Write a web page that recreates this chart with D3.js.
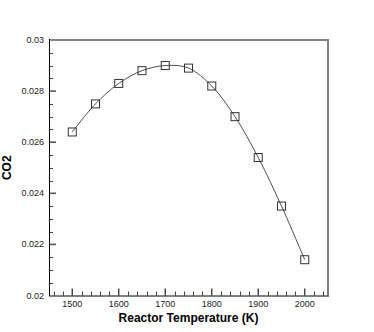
<!DOCTYPE html>
<html><head><meta charset="utf-8">
<script src="https://cdn.jsdelivr.net/npm/d3@7"></script>
<style>body{margin:0;background:#fff;} svg{display:block;}</style>
</head><body>
<svg id="c" width="374" height="332"></svg>
<script>
const temperatures = [1500,1550,1600,1650,1700,1750,1800,1850,1900,1950,2000];
const co2 = [0.0264,0.0275,0.0283,0.0288,0.0290,0.0289,0.0282,0.0270,0.0254,0.0235,0.0214];
const xTicks = [1500,1600,1700,1800,1900,2000];
const yTicks = [0.02,0.022,0.024,0.026,0.028,0.03];
const xLabel = "Reactor Temperature (K)";
const yLabel = "CO2";

const svg = d3.select("#c");
const L=49, R=328, T=40, B=295.5;
const x = d3.scaleLinear().domain([1450,2050]).range([L,R]);
const y = d3.scaleLinear().domain([0.02,0.03]).range([B,T]);

const xMinor = d3.range(1460,2050,20).filter(v=>!xTicks.includes(v));
const yMinor = d3.range(0.0205,0.03,0.0005).filter(v=>!yTicks.some(t=>Math.abs(t-v)<1e-9));

const g = svg.append("g");
g.selectAll(".xm").data(xMinor).enter().append("line")
  .attr("x1",d=>Math.round(x(d))+0.5).attr("x2",d=>Math.round(x(d))+0.5)
  .attr("y1",B).attr("y2",B-4).attr("stroke","#444").attr("stroke-width",1);
g.selectAll(".ym").data(yMinor).enter().append("line")
  .attr("y1",d=>Math.round(y(d))+0.5).attr("y2",d=>Math.round(y(d))+0.5)
  .attr("x1",L).attr("x2",L+4).attr("stroke","#444").attr("stroke-width",1);
g.selectAll(".xM").data(xTicks).enter().append("line")
  .attr("x1",d=>x(d)).attr("x2",d=>x(d))
  .attr("y1",B).attr("y2",B-7).attr("stroke","#333").attr("stroke-width",1.3);
g.selectAll(".yM").data(yTicks.filter(v=>v>0.02 && v<0.03)).enter().append("line")
  .attr("y1",d=>y(d)).attr("y2",d=>y(d))
  .attr("x1",L).attr("x2",L+7).attr("stroke","#555").attr("stroke-width",1.6);

svg.append("line").attr("x1",L).attr("x2",R).attr("y1",T).attr("y2",T).attr("stroke","#808080").attr("stroke-width",2);
svg.append("line").attr("x1",R).attr("x2",R).attr("y1",T-1).attr("y2",B).attr("stroke","#808080").attr("stroke-width",2);
svg.append("line").attr("x1",L+0.5).attr("x2",L+0.5).attr("y1",T-1).attr("y2",B+0.5).attr("stroke","#000").attr("stroke-width",1);
svg.append("line").attr("x1",L).attr("x2",R+1).attr("y1",B+0.5).attr("y2",B+0.5).attr("stroke","#000").attr("stroke-width",1);

svg.selectAll(".xl").data(xTicks).enter().append("text")
  .attr("x",d=>x(d)).attr("y",B+11).attr("text-anchor","middle")
  .attr("font-family","Liberation Sans, Arial, sans-serif").attr("font-size",9).attr("fill","#222")
  .text(d=>d);
svg.selectAll(".yl").data(yTicks).enter().append("text")
  .attr("x",L-5).attr("y",d=>y(d)+3).attr("text-anchor","end")
  .attr("font-family","Liberation Sans, Arial, sans-serif").attr("font-size",9).attr("fill","#222")
  .text(d=>d3.format("")(+d.toFixed(3)));

svg.append("text").attr("x",(L+R)/2).attr("y",322).attr("text-anchor","middle")
  .attr("font-family","Liberation Sans, Arial, sans-serif").attr("font-size",12).attr("font-weight","bold")
  .text(xLabel);
svg.append("text").attr("transform","translate(11,"+((T+B)/2)+") rotate(-90)").attr("text-anchor","middle")
  .attr("font-family","Liberation Sans, Arial, sans-serif").attr("font-size",12).attr("font-weight","bold")
  .text(yLabel);

const pts = temperatures.map((t,i)=>[t,co2[i]]);
svg.append("path").datum(pts)
  .attr("d",d3.line().x(d=>x(d[0])).y(d=>y(d[1])).curve(d3.curveCatmullRom.alpha(0.5)))
  .attr("fill","none").attr("stroke","#222").attr("stroke-width",0.8);

svg.selectAll(".m").data(pts).enter().append("rect")
  .attr("x",d=>x(d[0])-4).attr("y",d=>y(d[1])-4).attr("width",8).attr("height",8)
  .attr("fill","none").attr("stroke","#333").attr("stroke-width",1);
</script>
</body></html>
